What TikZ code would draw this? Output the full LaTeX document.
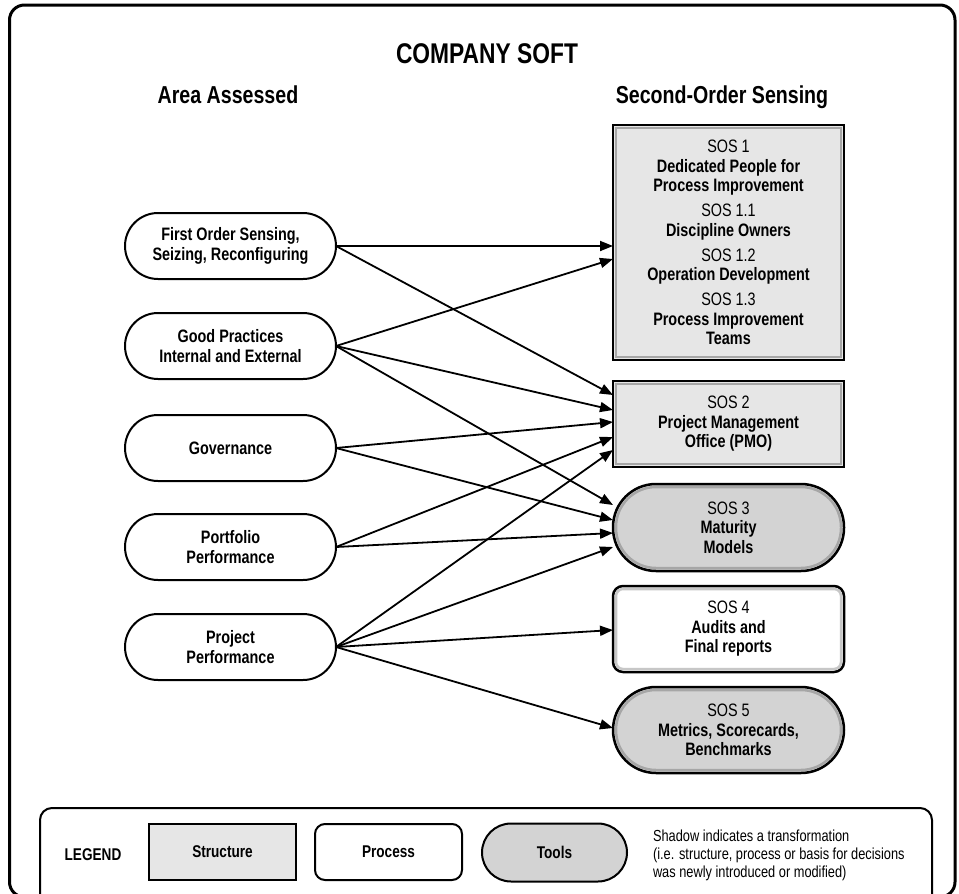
\documentclass[tikz,border=0pt]{standalone}
\usepackage{fontspec}
\setmainfont{Liberation Sans}[FakeStretch=0.8]
\usetikzlibrary{arrows.meta}

\definecolor{structgray}{HTML}{E6E6E6}
\definecolor{toolgray}{HTML}{D3D3D3}

\begin{document}
\begin{tikzpicture}[x=1pt,y=-1pt,
  every node/.style={inner sep=0pt, outer sep=0pt, align=center},
  area/.style={draw, line width=2, fill=white, minimum width=211pt, minimum height=66pt,
    rounded corners=33pt, font=\bfseries\fontsize{18}{19.5}\selectfont},
  sosbox/.style={draw, line width=2.5, minimum width=231pt, font=\fontsize{18}{19.5}\selectfont},
  structure/.style={sosbox, fill=structgray},
  process/.style={sosbox, fill=white, rounded corners=10pt},
  tools/.style={sosbox, fill=toolgray, rounded corners=43pt},
  bevel/.style={line width=2.5, draw=black!35},
  bevelwhite/.style={line width=2.5, draw=black!22},
  link/.style={line width=1.8, -{Triangle[length=13pt,width=10pt]}},
  header/.style={font=\bfseries\fontsize{24.5}{26}\selectfont, anchor=base},
  keybox/.style={draw, line width=2, minimum width=147pt, minimum height=56pt,
    font=\bfseries\fontsize{17}{18}\selectfont},
]
\clip (0,0) rectangle (959,894);

% outer frame
\draw[line width=3, rounded corners=15] (9.5,5) rectangle (955,897);

% titles
\node[font=\bfseries\fontsize{28.5}{30}\selectfont, anchor=base] (title) at (487,63) {COMPANY SOFT};
\node[header] (hleft) at (228,103) {Area Assessed};
\node[header] (hright) at (722,103) {Second-Order Sensing};

% areas assessed
\node[area] (fo)   at (230.5,246) {First Order Sensing,\\Seizing, Reconfiguring};
\node[area] (gp)   at (230.5,346) {Good Practices\\Internal and External};
\node[area] (gov)  at (230.5,448) {Governance};
\node[area] (port) at (230.5,547) {Portfolio\\Performance};
\node[area] (proj) at (230.5,647) {Project\\Performance};

% second-order sensing elements
\node[structure, minimum height=235pt] (sos1) at (728.5,242.5)
  {SOS 1\\\textbf{Dedicated People for}\\\textbf{Process Improvement}\\[5.5pt]
   SOS 1.1\\\textbf{Discipline Owners}\\[5.5pt]
   SOS 1.2\\\textbf{Operation Development}\\[5.5pt]
   SOS 1.3\\\textbf{Process Improvement}\\\textbf{Teams}};
\node[structure, minimum height=86pt] (sos2) at (728.5,424)
  {SOS 2\\\textbf{Project Management}\\\textbf{Office (PMO)}};
\node[tools, minimum height=87pt] (sos3) at (728.5,527.5)
  {SOS 3\\\textbf{Maturity}\\\textbf{Models}};
\node[process, minimum height=86pt] (sos4) at (728.5,629)
  {SOS 4\\\textbf{Audits and}\\\textbf{Final reports}};
\node[tools, minimum height=86pt] (sos5) at (728.5,730)
  {SOS 5\\\textbf{Metrics, Scorecards,}\\\textbf{Benchmarks}};

% inner shading marking a transformation
\foreach \n in {sos1,sos2}
  \draw[bevel] ([shift={(3,3)}]\n.north west) rectangle ([shift={(-3,-3)}]\n.south east);
\draw[bevelwhite, rounded corners=7] ([shift={(3,3)}]sos4.north west) rectangle ([shift={(-3,-3)}]sos4.south east);
\draw[bevel, rounded corners=40] ([shift={(3,3)}]sos3.north west) rectangle ([shift={(-3,-3)}]sos3.south east);
\draw[bevel, rounded corners=40] ([shift={(3,3)}]sos5.north west) rectangle ([shift={(-3,-3)}]sos5.south east);

% connectors
\draw[link] (fo.east)   -- ([shift={(0,3.5)}]sos1.west);
\draw[link] (fo.east)   -- ([shift={(0,-29)}]sos2.west);
\draw[link] (gp.east)   -- ([shift={(0,16.5)}]sos1.west);
\draw[link] (gp.east)   -- ([shift={(0,-14)}]sos2.west);
\draw[link] (gp.east)   -- ([shift={(0,-22.5)}]sos3.west);
\draw[link] (gov.east)  -- ([shift={(0,-2)}]sos2.west);
\draw[link] (gov.east)  -- ([shift={(0,-7.5)}]sos3.west);
\draw[link] (port.east) -- ([shift={(0,13)}]sos2.west);
\draw[link] (port.east) -- ([shift={(0,5.5)}]sos3.west);
\draw[link] (proj.east) -- ([shift={(0,26)}]sos2.west);
\draw[link] (proj.east) -- ([shift={(0,19.5)}]sos3.west);
\draw[link] (proj.east) -- ([shift={(0,1)}]sos4.west);
\draw[link] (proj.east) -- ([shift={(0,-2)}]sos5.west);

% legend
\draw[line width=2, rounded corners=12] (40,808) rectangle (932,930);
\node[font=\bfseries\fontsize{17}{18}\selectfont, anchor=base] (lg) at (93,860) {LEGEND};
\node[keybox, fill=structgray] (kstruct) at (222.5,852) {Structure};
\node[keybox, fill=white, rounded corners=10pt] (kproc) at (388.5,852) {Process};
\node[keybox, fill=toolgray, minimum width=145pt, minimum height=58pt, rounded corners=29pt] (ktool) at (554.5,852.5) {Tools};
\node[anchor=west, align=left, font=\fontsize{16}{18}\selectfont] (note) at (653,855)
  {Shadow indicates a transformation\\(i.e. structure, process or basis for decisions\\was newly introduced or modified)};
\end{tikzpicture}
\end{document}
